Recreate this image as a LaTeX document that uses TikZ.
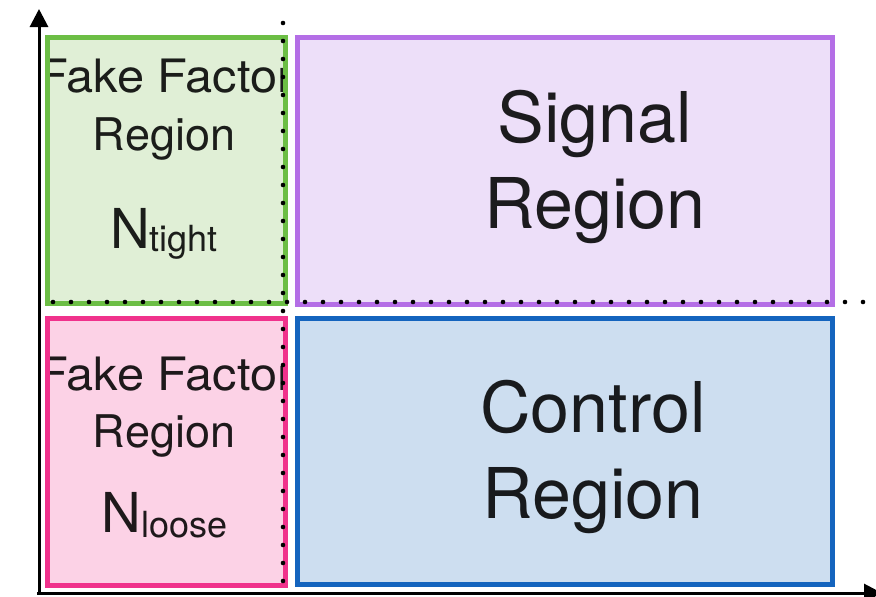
\documentclass[tikz,border=0pt]{standalone}
\usepackage{fontspec}
\setmainfont{TeX Gyre Heros}
\usetikzlibrary{arrows.meta}

\definecolor{ffgreen}{RGB}{108,190,69}
\definecolor{ffgreenfill}{RGB}{224,239,214}
\definecolor{srpurple}{RGB}{180,110,230}
\definecolor{srpurplefill}{RGB}{237,223,249}
\definecolor{ffpink}{RGB}{240,50,140}
\definecolor{ffpinkfill}{RGB}{252,210,230}
\definecolor{crblue}{RGB}{20,100,190}
\definecolor{crbluefill}{RGB}{205,222,240}

\begin{document}
\begin{tikzpicture}[x=1pt,y=-1pt,
  region/.style={draw, line width=5pt, inner sep=0pt, outer sep=0pt},
  axis/.style={line width=3pt, -{Triangle[length=18pt,width=18pt]}},
  dotline/.style={line width=4.6pt, line cap=round, dash pattern=on 0pt off 18pt},
  smalllabel/.style={anchor=base, text=black, text opacity=0.88, font=\fontsize{45}{45}\selectfont},
  widelabel/.style={smalllabel, font=\fontsize{46}{46}\selectfont, xscale=1.06},
  biglabel/.style={anchor=base, text=black, text opacity=0.88, font=\fontsize{70}{70}\selectfont},
  countlabel/.style={anchor=base, text=black, text opacity=0.88, font=\fontsize{55}{55}\selectfont}
]
\useasboundingbox (0,0) rectangle (876,597);

% region boxes (fill only; borders are drawn after the clipped text)
\node[region, draw=none, fill=ffgreenfill, minimum width=238pt, minimum height=266pt] (fftight) at (166,170) {};
\node[region, draw=none, fill=srpurplefill, minimum width=534.5pt, minimum height=267pt] (sr) at (564.75,170.5) {};
\node[region, draw=none, fill=ffpinkfill, minimum width=238pt, minimum height=267pt] (ffloose) at (166,451.5) {};
\node[region, draw=none, fill=crbluefill, minimum width=534.5pt, minimum height=266pt] (cr) at (564.75,451) {};

% labels of the tight fake factor region, clipped to the box interior
\begin{scope}
  \clip ([xshift=2.5pt,yshift=-2.5pt]fftight.north west) rectangle ([xshift=-2.5pt,yshift=2.5pt]fftight.south east);
  \node[widelabel] (ft1) at (166,92) {Fake Factor};
  \node[smalllabel] (ft2) at (164,150) {Region};
  \node[countlabel] (ft3) at (164,248) {N\raisebox{-3pt}{\fontsize{36}{36}\selectfont tight}};
\end{scope}

% labels of the loose fake factor region, clipped to the box interior
\begin{scope}
  \clip ([xshift=2.5pt,yshift=-2.5pt]ffloose.north west) rectangle ([xshift=-2.5pt,yshift=2.5pt]ffloose.south east);
  \node[widelabel] (fl1) at (166,390) {Fake Factor};
  \node[smalllabel] (fl2) at (164,447) {Region};
  \node[countlabel] (fl3) at (164.5,532) {N\raisebox{-5pt}{\fontsize{36}{36}\selectfont loose}};
\end{scope}

% signal and control region labels
\node[biglabel] (sr1) at (595,142) {Signal};
\node[biglabel] (sr2) at (595,228) {Region};
\node[biglabel] (cr1) at (593,432) {Control};
\node[biglabel] (cr2) at (593,518) {Region};

% region borders
\node[region, draw=ffgreen, minimum width=238pt, minimum height=266pt] at (fftight.center) {};
\node[region, draw=srpurple, minimum width=534.5pt, minimum height=267pt] at (sr.center) {};
\node[region, draw=ffpink, minimum width=238pt, minimum height=267pt] at (ffloose.center) {};
\node[region, draw=crblue, minimum width=534.5pt, minimum height=266pt] at (cr.center) {};

% axes
\coordinate (ybase) at (39,595);
\coordinate (ytip) at (39,9);
\coordinate (xbase) at (37,593);
\coordinate (xtip) at (882,593);
\draw[axis] (ybase) -- (ytip);
\draw[axis] (xbase) -- (xtip);

% dotted cut lines
\coordinate (vcuttop) at (283,23);
\coordinate (vcutbot) at (283,586);
\coordinate (hcutleft) at (53,302);
\coordinate (hcutright) at (866,302);
\draw[dotline] (vcuttop) -- (vcutbot);
\draw[dotline] (hcutleft) -- (hcutright);
\end{tikzpicture}
\end{document}
